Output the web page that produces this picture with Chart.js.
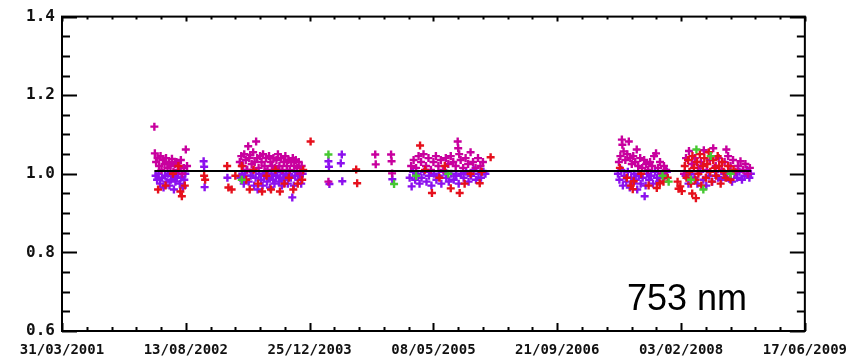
<!DOCTYPE html>
<html>
<head>
<meta charset="utf-8">
<script src="https://cdn.jsdelivr.net/npm/chart.js@4/dist/chart.umd.min.js"></script>
<style>
  html, body { margin: 0; padding: 0; background: #fff; }
  #wrap { width: 858px; height: 356px; position: relative; }
</style>
</head>
<body>
<div id="wrap"><canvas id="ratio"></canvas></div>
<script>
(function () {
  'use strict';

  // x is in days counted from 31/03/2001, one labelled tick every 500 days
  const TICK_DAYS = [0, 500, 1000, 1500, 2000, 2500, 3000];
  const TICK_LABELS = ['31/03/2001', '13/08/2002', '25/12/2003', '08/05/2005', '21/09/2006', '03/02/2008', '17/06/2009'];
  const Y_TICKS = [0.6, 0.8, 1.0, 1.2, 1.4];

  const FIT_LEVEL = 1.007;
  const FIT_DAYS = [373, 2783];

  const PURPLE = [
    [378,0.995],[384,0.985],[390,1.0],[396,0.975],[404,0.99],[410,0.965],[416,0.995],[422,0.98],[428,1.0],[434,0.97],
    [440,0.985],[446,0.995],[452,0.96],[458,0.98],[464,0.99],[470,1.0],[476,0.975],[482,0.99],[488,0.965],[494,0.985],[498,1.0],
    [572,1.032],[574,1.018],[576,0.966],[668,0.99],
    [720,0.99],[728,1.0],[734,0.975],[740,0.995],[746,1.01],[754,0.98],[762,0.995],[770,1.005],[776,0.97],[782,0.99],
    [790,0.96],[796,1.0],[804,0.985],[810,0.97],[816,0.995],[822,1.005],[828,0.98],[834,0.99],[840,0.965],[846,1.0],
    [852,0.985],[858,0.975],[864,0.995],[870,1.005],[876,0.98],[882,0.99],[888,0.97],[894,1.0],[900,0.985],[906,0.995],
    [912,0.975],[918,1.0],[924,0.99],[930,0.94],[936,0.97],[942,0.995],[948,1.005],[954,0.985],[960,0.995],[966,0.975],[972,1.0],
    [1076,1.032],[1078,1.018],[1080,0.974],[1130,1.049],[1126,1.027],[1132,0.981],[1334,0.986],
    [1404,0.99],[1412,0.968],[1418,1.005],[1426,0.985],[1436,1.0],[1444,0.975],[1452,0.99],[1462,1.005],[1472,0.98],[1482,0.995],
    [1492,0.97],[1502,1.0],[1512,0.985],[1522,0.995],[1532,0.975],[1542,1.005],[1552,0.99],[1562,0.98],[1572,1.0],[1582,0.985],
    [1592,0.995],[1602,0.975],[1612,1.0],[1622,0.99],[1632,1.005],[1642,0.98],[1652,0.995],[1662,1.01],[1672,0.985],[1682,1.0],
    [1692,0.99],[1702,1.005],[1710,1.0],
    [2245,1.0],[2251,0.985],[2259,1.01],[2265,0.97],[2271,0.995],[2279,0.98],[2285,1.005],[2293,0.965],[2299,0.99],[2305,0.975],
    [2311,1.0],[2317,0.985],[2323,0.96],[2329,0.995],[2337,0.975],[2345,0.99],[2353,0.943],[2357,0.97],[2363,1.0],[2371,0.985],
    [2379,0.995],[2387,0.975],[2395,1.005],[2403,0.99],[2411,0.98],[2419,1.0],[2427,0.99],[2435,0.995],[2443,1.005],
    [2518,0.995],[2530,0.975],[2542,1.0],[2554,0.99],[2566,0.975],[2578,1.005],[2590,0.985],[2602,0.97],[2614,0.995],[2626,0.98],
    [2638,1.005],[2650,0.99],[2662,0.985],[2674,1.0],[2686,0.99],[2698,1.005],[2706,0.98],[2716,1.0],[2726,0.99],[2736,1.005],
    [2746,0.985],[2756,0.995],[2766,1.01],[2776,0.99],[2782,1.0]
  ];

  const MAGENTA = [
    [373,1.12],[375,1.052],[380,1.03],[386,1.04],[392,1.02],[398,1.045],[402,1.01],[408,1.035],[414,1.025],[420,1.04],
    [426,1.015],[432,1.03],[438,1.02],[444,1.038],[450,1.005],[456,1.025],[462,1.03],[468,1.01],[474,1.02],[480,1.035],
    [486,1.0],[492,1.015],[500,1.062],[505,1.02],
    [718,1.03],[724,1.045],[730,1.02],[736,1.05],[742,1.035],[748,1.01],[752,1.07],[756,1.04],[760,1.048],[766,1.025],
    [772,1.055],[778,1.03],[784,1.082],[788,1.04],[794,1.015],[800,1.045],[806,1.03],[812,1.05],[818,1.02],[824,1.04],
    [830,1.01],[836,1.045],[842,1.03],[848,1.02],[854,1.04],[860,1.015],[866,1.035],[872,1.05],[878,1.02],[884,1.04],
    [890,1.01],[896,1.03],[902,1.045],[908,1.02],[914,1.035],[920,1.01],[926,1.03],[932,1.04],[938,1.02],[944,1.035],
    [950,1.015],[956,1.03],[962,1.0],[968,1.02],
    [1076,0.98],[1265,1.049],[1267,1.024],[1329,1.049],[1331,1.032],[1333,1.001],
    [1410,1.02],[1420,1.035],[1430,1.015],[1440,1.045],[1450,1.03],[1460,1.05],[1470,1.02],[1480,1.04],[1490,1.01],[1500,1.03],
    [1510,1.045],[1520,1.02],[1530,1.035],[1540,1.01],[1550,1.04],[1560,1.025],[1570,1.045],[1580,1.03],[1590,1.02],[1598,1.082],
    [1600,1.065],[1604,1.05],[1610,1.035],[1620,1.015],[1630,1.04],[1640,1.025],[1650,1.055],[1660,1.03],[1670,1.015],[1680,1.04],
    [1690,1.02],[1700,1.03],
    [2249,1.03],[2255,1.045],[2261,1.087],[2263,1.074],[2268,1.057],[2289,1.082],[2275,1.035],[2283,1.05],[2295,1.04],[2301,1.025],
    [2307,1.045],[2315,1.03],[2321,1.062],[2327,1.02],[2335,1.04],[2343,1.015],[2351,1.035],[2359,1.025],[2367,1.01],[2375,1.03],
    [2383,1.02],[2391,1.045],[2399,1.052],[2407,1.015],[2415,1.03],[2423,1.0],[2431,1.02],[2440,1.01],
    [2512,1.0],[2520,1.04],[2532,1.058],[2544,1.025],[2556,1.04],[2568,1.015],[2580,1.03],[2592,1.06],[2604,1.01],[2616,1.035],
    [2630,1.065],[2640,1.02],[2652,1.04],[2664,1.01],[2676,1.03],[2683,1.062],[2690,1.045],[2700,1.02],[2710,1.035],[2720,1.005],
    [2730,1.02],[2740,1.032],[2750,1.01],[2760,1.025],[2770,1.0],[2778,1.015]
  ];

  const RED = [
    [388,0.96],[418,0.97],[448,1.0],[478,0.955],[484,0.943],[496,0.97],[470,1.02],
    [574,0.995],[578,0.985],[667,1.02],[672,0.965],[685,0.96],[700,0.995],
    [726,1.02],[744,0.985],[758,0.96],[774,1.01],[792,0.975],[808,0.955],[826,0.995],[844,0.96],[862,1.01],[880,0.955],
    [898,0.975],[916,0.99],[934,0.96],[952,0.975],[970,0.985],[974,1.01],
    [1004,1.082],[1188,1.011],[1192,0.976],
    [1446,1.072],[1494,0.951],[1524,0.99],[1570,0.963],[1606,0.951],[1626,0.975],[1650,1.0],[1687,0.976],[1695,1.005],
    [1731,1.042],[1466,1.01],[1546,1.02],
    [2253,1.015],[2281,0.99],[2297,0.97],[2309,0.981],[2305,0.961],[2339,1.0],[2369,0.97],[2402,0.964],[2414,0.976],
    [2429,0.98],[2446,0.99],[2486,0.98],[2490,0.962],
    [2515,1.02],[2522,0.99],[2528,1.035],[2534,1.005],[2540,0.975],[2546,1.045],[2552,1.015],[2558,0.985],[2564,1.03],
    [2570,1.0],[2576,1.05],[2582,0.97],[2588,1.02],[2594,1.04],[2600,0.99],[2606,1.025],[2612,1.055],[2618,1.005],
    [2624,0.98],[2630,1.035],[2636,1.015],[2642,0.995],[2648,1.045],[2654,1.02],[2660,0.975],[2666,1.03],[2672,1.005],
    [2680,0.99],[2690,1.02],[2700,0.985],[2712,1.01],[2497,0.968],[2503,0.956],[2560,0.938],[2545,0.95]
  ];

  const GREEN = [
    [726,0.985],[1076,1.049],[1341,0.974],[1430,0.995],[1560,1.0],[2425,0.995],[2450,0.98],
    [2562,1.062],[2540,0.985],[2590,0.96],[2700,1.0],[2620,1.045]
  ];

  const COLORS = { purple: '#8c10ee', magenta: '#c8009e', red: '#e6101c', green: '#46c832' };

  const toPts = arr => arr.map(p => ({ x: p[0], y: p[1] }));

  function crossSet(label, arr, color, order) {
    return {
      type: 'scatter',
      label: label,
      data: toPts(arr),
      pointStyle: 'cross',
      pointRadius: 4,
      pointBorderWidth: 2.4,
      borderColor: color,
      backgroundColor: color,
      order: order
    };
  }

  // frame, inward ticks and the wavelength tag
  const framePlugin = {
    id: 'idlFrame',
    afterDraw(chart) {
      const { ctx, chartArea: a, scales } = chart;
      const xs = scales.x, ys = scales.y;
      ctx.save();
      ctx.strokeStyle = '#000';
      ctx.lineWidth = 2;
      ctx.strokeRect(a.left, a.top, a.right - a.left, a.bottom - a.top);
      ctx.beginPath();
      for (let v = 0.6; v <= 1.4001; v += 0.05) {
        const y = Math.round(ys.getPixelForValue(v)) + 0.5;
        const major = Math.abs(v * 5 - Math.round(v * 5)) < 1e-6;
        const len = major ? 15 : 8;
        ctx.moveTo(a.left, y); ctx.lineTo(a.left + len, y);
        ctx.moveTo(a.right, y); ctx.lineTo(a.right - len, y);
      }
      for (let d = 0; d <= 3000; d += 100) {
        const x = Math.round(xs.getPixelForValue(d)) + 0.5;
        const major = d % 500 === 0;
        ctx.moveTo(x, a.bottom); ctx.lineTo(x, a.bottom - (major ? 8 : 4));
        ctx.moveTo(x, a.top); ctx.lineTo(x, a.top + (major ? 5 : 3));
      }
      ctx.stroke();
      ctx.fillStyle = '#000';
      ctx.font = '36px "Liberation Sans", Arial, sans-serif';
      ctx.textBaseline = 'alphabetic';
      ctx.fillText('753 nm', 627, 310);
      ctx.restore();
    }
  };

  const tickFont = { family: '"DejaVu Sans Mono", monospace', size: 14, weight: 'bold' };

  new Chart(document.getElementById('ratio'), {
    data: {
      datasets: [
        {
          type: 'line',
          label: 'mean',
          data: FIT_DAYS.map(d => ({ x: d, y: FIT_LEVEL })),
          borderColor: '#000',
          borderWidth: 2,
          pointRadius: 0,
          order: 0
        },
        crossSet('green', GREEN, COLORS.green, 1),
        crossSet('red', RED, COLORS.red, 2),
        crossSet('magenta', MAGENTA, COLORS.magenta, 3),
        crossSet('purple', PURPLE, COLORS.purple, 4)
      ]
    },
    options: {
      responsive: true,
      maintainAspectRatio: false,
      animation: false,
      layout: { padding: { left: 0, top: 15, right: 49, bottom: 0 } },
      plugins: { legend: { display: false }, tooltip: { enabled: false } },
      scales: {
        x: {
          type: 'linear',
          min: 0,
          max: 3000,
          grid: { display: false, drawTicks: false },
          border: { display: false },
          afterBuildTicks: s => { s.ticks = TICK_DAYS.map(v => ({ value: v })); },
          afterFit: s => { s.height = 25; },
          ticks: {
            autoSkip: false,
            maxRotation: 0,
            padding: 11,
            color: '#111',
            font: tickFont,
            callback: v => TICK_LABELS[TICK_DAYS.indexOf(v)]
          }
        },
        y: {
          min: 0.6,
          max: 1.4,
          grid: { display: false, drawTicks: false },
          border: { display: false },
          afterBuildTicks: s => { s.ticks = Y_TICKS.map(v => ({ value: v })); },
          afterFit: s => { s.width = 62; },
          ticks: {
            padding: 7,
            color: '#111',
            font: { family: '"DejaVu Sans Mono", monospace', size: 16, weight: 'bold' },
            callback: v => v.toFixed(1)
          }
        }
      }
    },
    plugins: [framePlugin]
  });
})();
</script>
</body>
</html>
